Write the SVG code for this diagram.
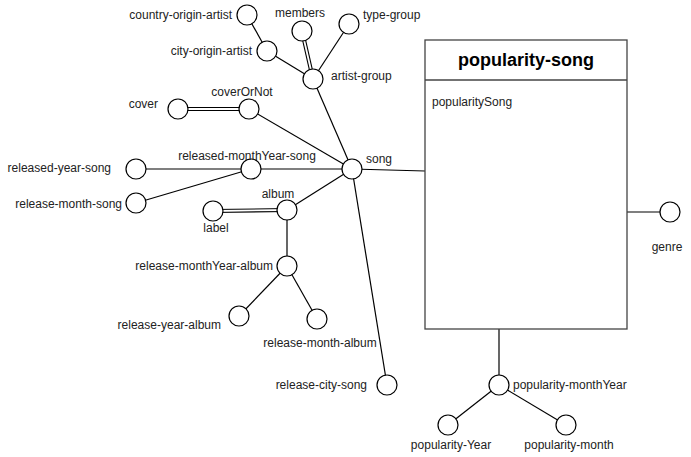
<svg xmlns="http://www.w3.org/2000/svg" width="691" height="457" viewBox="0 0 691 457">
<style>
text{font-family:"Liberation Sans",Arial,sans-serif;font-size:12px;fill:#222}
.a circle{fill:#fff;stroke:#000;stroke-width:1.2}
.c line{stroke:#000;stroke-width:1.2}
.c .d1{stroke:#000;stroke-width:4}
.c .d2{stroke:#fff;stroke-width:1.8}
.e{text-anchor:end}
.m{text-anchor:middle}
</style>
<rect width="691" height="457" fill="#fff"/>
<g id="connectors" class="c">
<line x1="352" y1="169" x2="313" y2="79"/>
<line x1="352" y1="169" x2="249" y2="109"/>
<line x1="352" y1="169" x2="251" y2="169"/>
<line x1="352" y1="169" x2="287" y2="210"/>
<line x1="352" y1="169" x2="387" y2="385"/>
<line x1="352" y1="169" x2="425" y2="171"/>
<line x1="313" y1="79" x2="267" y2="51"/>
<line x1="313" y1="79" x2="349" y2="24"/>
<line x1="267" y1="51" x2="247" y2="15"/>
<line x1="251" y1="169" x2="136" y2="169"/>
<line x1="251" y1="169" x2="136" y2="203"/>
<line x1="287" y1="210" x2="287" y2="266"/>
<line x1="287" y1="266" x2="239" y2="316"/>
<line x1="287" y1="266" x2="317" y2="319"/>
<line x1="627" y1="212" x2="670" y2="212"/>
<line x1="499" y1="329" x2="499" y2="385"/>
<line x1="499" y1="385" x2="448" y2="425"/>
<line x1="499" y1="385" x2="566" y2="425"/>
<line class="d1" x1="302" y1="31" x2="313" y2="79"/>
<line class="d2" x1="302" y1="31" x2="313" y2="79"/>
<line class="d1" x1="178" y1="109" x2="249" y2="109"/>
<line class="d2" x1="178" y1="109" x2="249" y2="109"/>
<line class="d1" x1="213" y1="211" x2="287" y2="210"/>
<line class="d2" x1="213" y1="211" x2="287" y2="210"/>
</g>
<g id="popularity-song">
<rect x="425" y="40" width="202" height="289" fill="#fff" stroke="#444" stroke-width="1.3"/>
<line x1="425" y1="80" x2="627" y2="80" stroke="#444" stroke-width="1.3"/>
<text x="526" y="66" class="m" style="font-size:18px;font-weight:bold;fill:#000">popularity-song</text>
<text x="432" y="106">popularitySong</text>
</g>
<g class="a">
<g id="song"><circle cx="352" cy="169" r="10"/><text x="366" y="163">song</text></g>
<g id="artist-group"><circle cx="313" cy="79" r="10"/><text x="331" y="80">artist-group</text></g>
<g id="members"><circle cx="302" cy="31" r="10"/><text x="300" y="17" class="m">members</text></g>
<g id="type-group"><circle cx="349" cy="24" r="10"/><text x="363" y="19">type-group</text></g>
<g id="city-origin-artist"><circle cx="267" cy="51" r="10"/><text x="252" y="55" class="e">city-origin-artist</text></g>
<g id="country-origin-artist"><circle cx="247" cy="15" r="10"/><text x="232" y="19" class="e">country-origin-artist</text></g>
<g id="coverOrNot"><circle cx="249" cy="109" r="10"/><text x="242" y="96" class="m">coverOrNot</text></g>
<g id="cover"><circle cx="178" cy="109" r="10"/><text x="158" y="108" class="e">cover</text></g>
<g id="released-monthYear-song"><circle cx="251" cy="169" r="10"/><text x="247" y="160" class="m">released-monthYear-song</text></g>
<g id="released-year-song"><circle cx="136" cy="169" r="10"/><text x="111" y="172" class="e">released-year-song</text></g>
<g id="release-month-song"><circle cx="136" cy="203" r="10"/><text x="122" y="208" class="e">release-month-song</text></g>
<g id="album"><circle cx="287" cy="210" r="10"/><text x="278" y="198" class="m">album</text></g>
<g id="label"><circle cx="213" cy="211" r="10"/><text x="216" y="232" class="m">label</text></g>
<g id="release-monthYear-album"><circle cx="287" cy="266" r="10"/><text x="273" y="270" class="e">release-monthYear-album</text></g>
<g id="release-year-album"><circle cx="239" cy="316" r="10"/><text x="221" y="329" class="e">release-year-album</text></g>
<g id="release-month-album"><circle cx="317" cy="319" r="10"/><text x="320" y="347" class="m">release-month-album</text></g>
<g id="release-city-song"><circle cx="387" cy="385" r="10"/><text x="367" y="389" class="e">release-city-song</text></g>
<g id="genre"><circle cx="670" cy="212" r="10"/><text x="667" y="251" class="m">genre</text></g>
<g id="popularity-monthYear"><circle cx="499" cy="385" r="10"/><text x="513" y="389">popularity-monthYear</text></g>
<g id="popularity-Year"><circle cx="448" cy="425" r="10"/><text x="451" y="449" class="m">popularity-Year</text></g>
<g id="popularity-month"><circle cx="566" cy="425" r="10"/><text x="569" y="449" class="m">popularity-month</text></g>
</g>
</svg>
